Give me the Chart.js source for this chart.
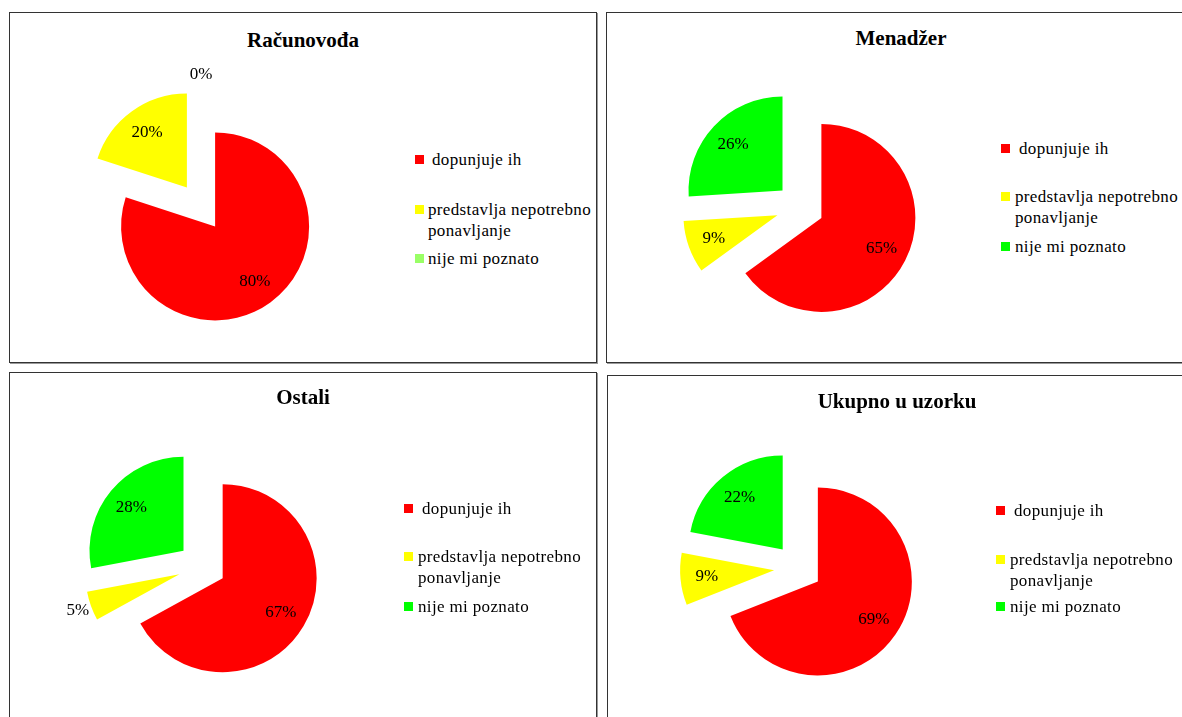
<!DOCTYPE html>
<html>
<head>
<meta charset="utf-8">
<script src="https://cdn.jsdelivr.net/npm/chart.js@4.4.1/dist/chart.umd.min.js"></script>
<style>
  html, body { margin: 0; padding: 0; background: #fff; }
  body { width: 1182px; height: 717px; position: relative; overflow: hidden; font-family: "Liberation Serif", "Times New Roman", serif; }
  .panel { position: absolute; border: 1px solid #333; box-shadow: 1px 1px 0 #999; box-sizing: border-box; background: transparent; }
  .title { position: absolute; font-weight: bold; font-size: 21px; line-height: 24px; color: #000; text-align: center; white-space: nowrap; }
  .mk { position: absolute; width: 9px; height: 9px; }
  .lt { position: absolute; font-size: 17px; line-height: 21px; color: #000; width: 178px; letter-spacing: 0.35px; }
  canvas { position: absolute; }
</style>
</head>
<body>
<script>
// ---- data ----
const categories = ['dopunjuje ih', 'predstavlja nepotrebno ponavljanje', 'nije mi poznato'];
const titles = ['Računovođa', 'Menadžer', 'Ostali', 'Ukupno u uzorku'];
const racunovodja = [80, 20, 0];
const menadzer = [65, 9, 26];
const ostali = [67, 5, 28];
const ukupno = [69, 9, 22];
const seriesList = [racunovodja, menadzer, ostali, ukupno];

// ---- styles / layout ----
const sliceColors = ['#FF0000', '#FFFF00', '#00FF00'];
const legendColorsFirst = ['#FF0000', '#FFFF00', '#99FF66'];
const panels = [
  { box: [9, 12, 588, 351], titleCx: 303, titleTop: 28, pie: [201, 206.5], legX: 415, legTX: 428, rows: [160, 210, 259], legColors: legendColorsFirst },
  { box: [606, 12, 600, 351], titleCx: 901, titleTop: 26, pie: [800, 206.5], legX: 1001, legTX: 1015, rows: [149, 197, 247], legColors: sliceColors },
  { box: [9, 372, 588, 360], titleCx: 303, titleTop: 385, pie: [202, 566], legX: 404, legTX: 418, rows: [509, 557, 607], legColors: sliceColors },
  { box: [607, 375, 600, 360], titleCx: 897, titleTop: 389, pie: [798, 567.5], legX: 996, legTX: 1010, rows: [511, 560, 607], legColors: sliceColors }
];
const RADIUS = 94;
const EXPLODE = [24, 24, 24];   // every slice pulled out from the centre (px)
const CAN = 360;

function sliceGeom(arc, i) {
  const p = arc.getProps(['x', 'y', 'startAngle', 'endAngle', 'outerRadius'], true);
  const mid = (p.startAngle + p.endAngle) / 2;
  const off = EXPLODE[i] || 0;
  return { p, mid, dx: Math.cos(mid) * off, dy: Math.sin(mid) * off };
}

// Draw the library's arc elements translated outward (pure radial explode)
const explodePlugin = {
  id: 'explode',
  beforeDatasetDraw(chart, args) {
    const ctx = chart.ctx;
    args.meta.data.forEach((arc, i) => {
      if (!arc.circumference) return;
      const g = sliceGeom(arc, i);
      ctx.save();
      ctx.translate(g.dx, g.dy);
      arc.draw(ctx, chart.chartArea);
      ctx.restore();
    });
    return false;
  }
};

const labelPlugin = {
  id: 'sliceLabels',
  afterDatasetsDraw(chart) {
    const ctx = chart.ctx;
    const meta = chart.getDatasetMeta(0);
    const ds = chart.data.datasets[0];
    ctx.save();
    ctx.font = '17px "Liberation Serif", "Times New Roman", serif';
    ctx.fillStyle = '#000';
    ctx.textAlign = 'center';
    ctx.textBaseline = 'middle';
    meta.data.forEach((arc, i) => {
      const g = sliceGeom(arc, i);
      const v = ds.data[i];
      const ax = g.p.x + g.dx, ay = g.p.y + g.dy;
      const d = v < 6 ? g.p.outerRadius + 14 : g.p.outerRadius * 0.72;
      ctx.fillText(v + '%', ax + Math.cos(g.mid) * d, ay + Math.sin(g.mid) * d);
    });
    ctx.restore();
  }
};

panels.forEach((pl, idx) => {
  const box = document.createElement('div');
  box.className = 'panel';
  box.style.left = pl.box[0] + 'px';
  box.style.top = pl.box[1] + 'px';
  box.style.width = pl.box[2] + 'px';
  box.style.height = pl.box[3] + 'px';
  document.body.appendChild(box);

  const t = document.createElement('div');
  t.className = 'title';
  t.textContent = titles[idx];
  t.style.left = (pl.titleCx - 150) + 'px';
  t.style.width = '300px';
  t.style.top = pl.titleTop + 'px';
  document.body.appendChild(t);

  categories.forEach((c, k) => {
    const m = document.createElement('div');
    m.className = 'mk';
    m.style.left = pl.legX + 'px';
    m.style.top = (pl.rows[k] - 5) + 'px';
    m.style.background = pl.legColors[k];
    document.body.appendChild(m);
    const tx = document.createElement('div');
    tx.className = 'lt';
    tx.textContent = c;
    tx.style.left = (pl.legTX + (k === 0 ? 4 : 0)) + 'px';
    tx.style.top = (pl.rows[k] - 11) + 'px';
    document.body.appendChild(tx);
  });

  const cv = document.createElement('canvas');
  cv.width = CAN; cv.height = CAN;
  cv.style.width = CAN + 'px'; cv.style.height = CAN + 'px';
  cv.style.left = (pl.pie[0] - CAN / 2) + 'px';
  cv.style.top = (pl.pie[1] - CAN / 2) + 'px';
  document.body.appendChild(cv);

  new Chart(cv, {
    type: 'pie',
    data: {
      labels: categories,
      datasets: [{
        data: seriesList[idx],
        backgroundColor: sliceColors,
        borderWidth: 0,
        offset: 0,
        hoverOffset: 0
      }]
    },
    options: {
      responsive: false,
      animation: false,
      devicePixelRatio: 1,
      radius: RADIUS,
      layout: { padding: 0 },
      events: [],
      plugins: { legend: { display: false }, tooltip: { enabled: false }, title: { display: false } }
    },
    plugins: [explodePlugin, labelPlugin]
  });
});
</script>
</body>
</html>
